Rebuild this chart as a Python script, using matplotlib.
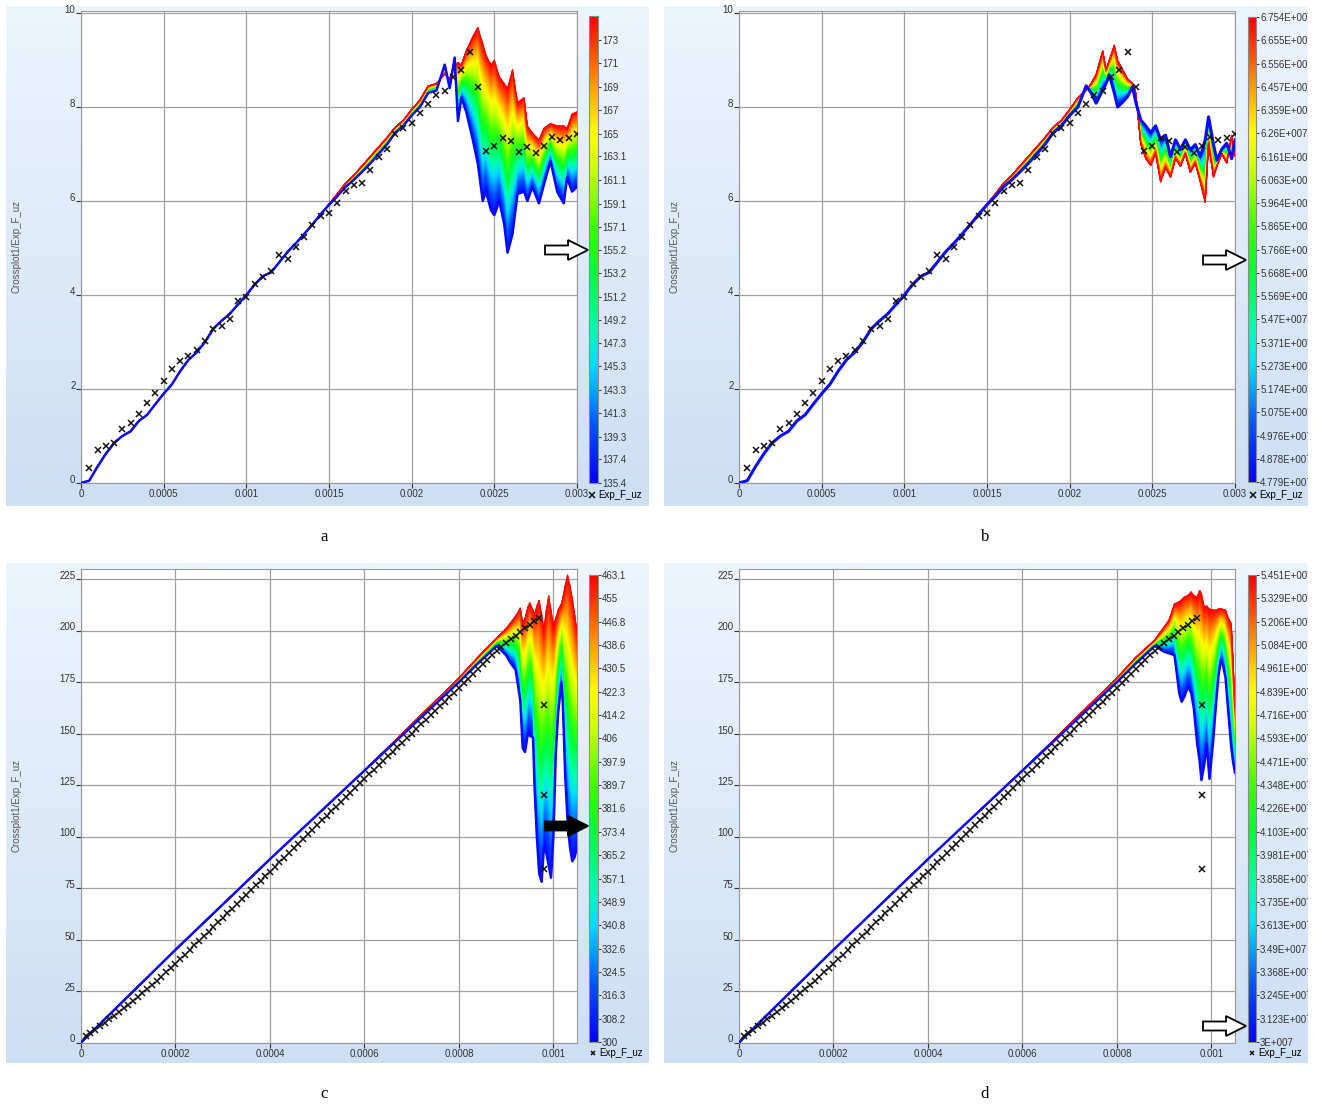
import numpy as np
import matplotlib
matplotlib.use('Agg')
import matplotlib.pyplot as plt
from matplotlib.colors import LinearSegmentedColormap
from matplotlib.patches import FancyArrow, Rectangle

plt.rcParams['font.family'] = ['Liberation Sans', 'DejaVu Sans']

W, H = 1317, 1106

# ---- experimental points, panels a and b (same test) ----
exp_ab_x = np.arange(1, 61) * 0.00005
exp_ab_y = [0.31, 0.70, 0.79, 0.86, 1.14, 1.28, 1.46, 1.71, 1.92, 2.16,
            2.42, 2.60, 2.70, 2.84, 3.03, 3.28, 3.34, 3.48, 3.88, 3.95,
            4.23, 4.39, 4.51, 4.85, 4.76, 5.02, 5.23, 5.49, 5.68, 5.74,
            5.96, 6.22, 6.33, 6.39, 6.66, 6.93, 7.10, 7.43, 7.55, 7.65,
            7.88, 8.06, 8.26, 8.35, 8.63, 8.79, 9.16, 8.42, 7.07, 7.16,
            7.33, 7.28, 7.04, 7.14, 7.01, 7.16, 7.37, 7.30, 7.33, 7.42]

# ---- experimental points, panels c and d ----
exp_cd_x = np.arange(1, 98) * 0.00001
exp_cd_y = [3.0, 4.6, 6.3, 8.0, 9.6, 11.3, 13.0, 14.8, 16.6, 18.4,
            20.3, 22.2, 24.1, 26.0, 28.0, 30.0, 32.0, 34.1, 36.2, 38.3,
            40.5, 42.7, 44.9, 47.1, 49.3, 51.5, 53.8, 56.0, 58.3, 60.5,
            62.8, 65.0, 67.3, 69.5, 71.8, 74.0, 76.3, 78.5, 80.8, 83.0,
            85.3, 87.5, 89.8, 92.0, 94.3, 96.5, 98.8, 101.0, 103.3, 105.5,
            107.8, 110.0, 112.3, 114.5, 116.8, 119.0, 121.3, 123.5, 125.8, 128.0,
            130.2, 132.4, 134.6, 136.8, 139.0, 141.2, 143.4, 145.6, 147.8, 150.0,
            152.2, 154.4, 156.6, 158.8, 161.0, 163.2, 165.4, 167.6, 169.8, 172.0,
            174.3, 176.6, 178.9, 181.2, 183.5, 185.8, 188.0, 190.2, 192.2, 194.0,
            195.8, 197.5, 199.2, 201.0, 202.8, 204.5, 206.0]
exp_cd_drop_x = [0.00098, 0.00098, 0.00098]
exp_cd_drop_y = [164, 120, 84]

# ---- simulated curve envelopes: lo = lowest parameter (blue), hi = highest (red) ----
lin_ab_x = np.arange(0, 41) * 0.00005
lin_ab_lo = [0, 0.05, 0.35, 0.62, 0.85, 1.0, 1.1, 1.32, 1.45, 1.68,
             1.9, 2.1, 2.38, 2.62, 2.78, 3.0, 3.28, 3.45, 3.6, 3.8,
             4.0, 4.22, 4.4, 4.48, 4.7, 4.92, 5.1, 5.3, 5.5, 5.72,
             5.92, 6.1, 6.3, 6.45, 6.62, 6.8, 7.0, 7.2, 7.45, 7.6, 7.82]
lin_ab_hi = [0, 0.05, 0.35, 0.62, 0.85, 1.0, 1.1, 1.32, 1.45, 1.68,
             1.9, 2.1, 2.38, 2.62, 2.78, 3.0, 3.28, 3.45, 3.6, 3.8,
             4.0, 4.22, 4.4, 4.48, 4.7, 4.92, 5.1, 5.3, 5.5, 5.72,
             5.93, 6.15, 6.38, 6.55, 6.75, 6.95, 7.15, 7.35, 7.57, 7.72, 7.95]

tail_a_x = [0.00205, 0.0021, 0.00215, 0.0022, 0.00223, 0.00226, 0.00228, 0.0023,
            0.00233, 0.00237, 0.0024, 0.00243, 0.00245, 0.00248, 0.0025, 0.00253,
            0.00256, 0.00258, 0.00261, 0.00264, 0.00268, 0.0027, 0.00273, 0.00277,
            0.0028, 0.00284, 0.00288, 0.00292, 0.00294, 0.00297, 0.003]
tail_a_lo = [8.0, 8.3, 8.35, 8.9, 8.4, 9.05, 7.7, 8.2, 7.9, 7.3, 6.8, 6.0, 6.2,
             5.8, 5.7, 6.0, 5.5, 4.9, 5.3, 6.15, 6.2, 6.0, 6.3, 5.95, 6.35, 6.85,
             6.2, 5.95, 6.5, 6.2, 6.3]
tail_a_hi = [8.15, 8.45, 8.5, 8.7, 8.6, 8.9, 8.95, 8.9, 9.2, 9.5, 9.7, 9.35, 9.1,
             8.9, 9.0, 8.65, 8.5, 8.4, 8.8, 8.1, 8.2, 7.6, 7.45, 7.3, 7.55, 7.65,
             7.6, 7.6, 7.55, 7.85, 7.9]

tail_b_x = [0.00205, 0.0021, 0.00213, 0.00216, 0.0022, 0.00222, 0.00224, 0.00227,
            0.00229, 0.00232, 0.00235, 0.00238, 0.0024, 0.00243, 0.00246, 0.00249,
            0.00252, 0.00255, 0.00258, 0.00261, 0.00264, 0.00267, 0.0027, 0.00273,
            0.00276, 0.00279, 0.00282, 0.00284, 0.00287, 0.00289, 0.00292, 0.00295,
            0.00298, 0.003]
tail_b_lo = [8.0, 8.45, 8.3, 8.08, 8.36, 8.5, 8.68, 8.3, 8.0, 8.1, 8.22, 8.43,
             8.1, 7.72, 7.6, 7.45, 7.6, 7.3, 7.4, 6.94, 7.3, 7.1, 7.3, 7.09, 7.2,
             6.94, 7.3, 7.79, 7.2, 6.87, 7.1, 7.23, 6.9, 7.3]
tail_b_hi = [8.2, 8.35, 8.5, 8.7, 9.2, 8.8, 9.0, 9.32, 9.0, 8.8, 8.6, 8.5, 8.3,
             7.2, 6.9, 6.75, 7.0, 6.4, 6.7, 6.5, 6.9, 6.73, 7.0, 6.6, 6.8, 6.4,
             5.96, 7.2, 6.5, 6.73, 7.0, 6.8, 7.4, 6.94]

band_c_x = [0, 0.0001, 0.0002, 0.0003, 0.0004, 0.0005, 0.0006, 0.0007, 0.0008,
            0.00084, 0.00088, 0.0009, 0.00091, 0.00092, 0.00093, 0.000935, 0.00094,
            0.000946, 0.00095, 0.000957, 0.00096, 0.000965, 0.00097, 0.000975,
            0.00098, 0.000985, 0.00099, 0.000995, 0.001, 0.001005, 0.00101,
            0.001017, 0.00102, 0.001025, 0.00103, 0.001035, 0.00104, 0.001045, 0.00105]
band_c_lo = [0, 22.5, 45, 67, 89, 110.5, 132, 153.5, 175, 184, 192.5, 188, 184,
             181, 166, 143, 141, 150, 149, 148, 125, 100, 82, 78, 95, 92, 86, 80,
             100, 140, 160, 175, 165, 130, 108, 95, 88, 90, 95]
band_c_hi = [0, 22.5, 45, 67, 89, 110.5, 132, 154.5, 177, 187, 196.5,
             201, 204, 207, 211, 204, 206, 211.5, 213.5, 210, 208, 212, 214.8, 208,
             201, 210, 217, 210, 203, 206, 210, 213, 216, 222, 227, 222, 216, 208, 200]

band_d_x = [0, 0.0001, 0.0002, 0.0003, 0.0004, 0.0005, 0.0006, 0.0007, 0.0008,
            0.00084, 0.00088, 0.0009, 0.00091, 0.000922, 0.000932, 0.000937,
            0.000943, 0.00095, 0.000957, 0.000963, 0.00097, 0.000975, 0.000979,
            0.000985, 0.00099, 0.000996, 0.001004, 0.00101, 0.001015, 0.00102,
            0.001025, 0.00103, 0.001036, 0.001042, 0.001046, 0.00105]
band_d_lo = [0, 22.5, 45, 67, 89, 110.5, 132, 153.5, 175, 184, 192.5, 189.7, 189,
             188, 169.6, 165.4, 168, 172.7, 170, 162, 145, 137, 127.4, 135, 145, 128,
             147, 165, 178, 185.7, 183, 177, 160, 143.6, 136, 131]
band_d_hi = [0, 22.5, 45, 67, 89, 110.5, 132, 154.5, 177, 187, 195.4,
             201.8, 205, 213, 214, 215, 216.4, 217, 218.8, 217, 216.4, 219.6, 218,
             211.5, 212, 210.5, 210, 210, 210.5, 210.7, 210.3, 210, 206, 203.5, 185, 163]

# ---- colour bar tick labels ----
cb_a_labels = ['135.4', '137.4', '139.3', '141.3', '143.3', '145.3', '147.3', '149.2',
               '151.2', '153.2', '155.2', '157.1', '159.1', '161.1', '163.1', '165',
               '167', '169', '171', '173']
cb_a_max = 175.0
cb_b_labels = ['4.779E+007', '4.878E+007', '4.976E+007', '5.075E+007', '5.174E+007',
               '5.273E+007', '5.371E+007', '5.47E+007', '5.569E+007', '5.668E+007',
               '5.766E+007', '5.865E+007', '5.964E+007', '6.063E+007', '6.161E+007',
               '6.26E+007', '6.359E+007', '6.457E+007', '6.556E+007', '6.655E+007',
               '6.754E+007']
cb_c_labels = ['300', '308.2', '316.3', '324.5', '332.6', '340.8', '348.9', '357.1',
               '365.2', '373.4', '381.6', '389.7', '397.9', '406', '414.2', '422.3',
               '430.5', '438.6', '446.8', '455', '463.1']
cb_d_labels = ['3E+007', '3.123E+007', '3.245E+007', '3.368E+007', '3.49E+007',
               '3.613E+007', '3.735E+007', '3.858E+007', '3.981E+007', '4.103E+007',
               '4.226E+007', '4.348E+007', '4.471E+007', '4.593E+007', '4.716E+007',
               '4.839E+007', '4.961E+007', '5.084E+007', '5.206E+007', '5.329E+007',
               '5.451E+007']

xt_ab = [0, 0.0005, 0.001, 0.0015, 0.002, 0.0025, 0.003]
xt_ab_labels = ['0', '0.0005', '0.001', '0.0015', '0.002', '0.0025', '0.003']
xt_cd = [0, 0.0002, 0.0004, 0.0006, 0.0008, 0.001]
xt_cd_labels = ['0', '0.0002', '0.0004', '0.0006', '0.0008', '0.001']
yt_ab = [0, 2, 4, 6, 8, 10]
yt_cd = [0, 25, 50, 75, 100, 125, 150, 175, 200, 225]

cmap = LinearSegmentedColormap.from_list('fringe', [
    (0.0, '#0000ff'), (0.12, '#0050ff'), (0.25, '#00dcff'), (0.33, '#00ffb0'),
    (0.45, '#00ff38'), (0.55, '#40ff00'), (0.67, '#c8ff00'), (0.75, '#ffff00'),
    (0.85, '#ffa000'), (0.94, '#ff3c00'), (1.0, '#ff0000')])


def px_box(x0, y0, x1, y1):
    return [x0 / W, 1 - y1 / H, (x1 - x0) / W, (y1 - y0) / H]


def draw_panel(ax, cax, bx, lo, hi, labels, vmax, ex, ey, xlim, ylim,
               xticks, xlabels, yticks, ms, lo_lw):
    bx = np.asarray(bx, dtype=float)
    lo = np.asarray(lo, dtype=float)
    hi = np.asarray(hi, dtype=float)
    ticks = [float(s) for s in labels]
    vmin = ticks[0]
    if vmax is None:
        vmax = ticks[-1]
    t = np.linspace(0, 1, 60)[:, None]
    X = np.broadcast_to(bx, (60, len(bx)))
    Y = lo + t * (hi - lo)
    C = vmin + t * (vmax - vmin) * np.ones_like(X)
    mesh = ax.pcolormesh(X, Y, C, shading='gouraud', cmap=cmap,
                         vmin=vmin, vmax=vmax, zorder=2)
    ax.plot(bx, lo, color='#0a0aff', lw=lo_lw, zorder=3)
    exp_line, = ax.plot(ex, ey, ls='none', marker='x', color='#111111',
                        ms=ms, mew=1.1, zorder=4, label='Exp_F_uz')

    ax.set_xlim(*xlim)
    ax.set_ylim(*ylim)
    ax.set_xticks(xticks, xlabels)
    ax.set_yticks(yticks, [str(v) for v in yticks])
    plt.setp(ax.get_yticklabels(), va='baseline')
    ax.tick_params(labelsize=7, colors='#333333', length=3.5, width=0.8, pad=1)
    ax.tick_params(axis='y', pad=0.5)
    ax.grid(True, color='#a0a0a0', lw=0.9)
    ax.set_axisbelow(True)
    for sp in ax.spines.values():
        sp.set_color('#999999')
    ax.set_ylabel('Crossplot1/Exp_F_uz', fontsize=7, color='#555555')
    ax.yaxis.set_label_coords(-0.119, 0.5)

    cb = fig.colorbar(mesh, cax=cax, ticks=ticks)
    cb.set_ticklabels(labels)
    cb.outline.set_edgecolor('#8a8a8a')
    cax.tick_params(labelsize=7, colors='#333333', length=2.5, width=0.7, pad=0.5)
    return exp_line


fig = plt.figure(figsize=(W / 100, H / 100), dpi=100)

# background frames with a light blue gradient
bg = fig.add_axes([0, 0, 1, 1], zorder=-10)
bg.set_xlim(0, W)
bg.set_ylim(H, 0)
bg.axis('off')
grad = LinearSegmentedColormap.from_list('frame', ['#edf5fd', '#cddff5'])
frames = [(6, 6, 649, 506), (664, 6, 1308, 506), (6, 563, 649, 1063), (664, 563, 1308, 1063)]
for x0, y0, x1, y1 in frames:
    bg.imshow(np.linspace(0, 1, 256)[:, None], cmap=grad, aspect='auto',
              extent=(x0, x1, y1, y0), origin='upper')

panels = [
    dict(ax=(81, 10.6, 577, 483), cax=(589, 16, 598, 483),
         bx=np.concatenate([lin_ab_x, tail_a_x]), lo=lin_ab_lo + tail_a_lo,
         hi=lin_ab_hi + tail_a_hi, labels=cb_a_labels, vmax=cb_a_max,
         ex=exp_ab_x, ey=exp_ab_y, xlim=(0, 0.003), ylim=(0, 10.05),
         xticks=xt_ab, xlabels=xt_ab_labels, yticks=yt_ab, ms=5, lo_lw=1.8,
         leg=(589, 495)),
    dict(ax=(739, 10.6, 1235, 483), cax=(1248, 17, 1256, 482),
         bx=np.concatenate([lin_ab_x, tail_b_x]), lo=lin_ab_lo + tail_b_lo,
         hi=lin_ab_hi + tail_b_hi, labels=cb_b_labels, vmax=None,
         ex=exp_ab_x, ey=exp_ab_y, xlim=(0, 0.003), ylim=(0, 10.05),
         xticks=xt_ab, xlabels=xt_ab_labels, yticks=yt_ab, ms=5, lo_lw=2.2,
         leg=(1250, 495)),
    dict(ax=(81, 568.7, 577, 1042.5), cax=(589, 575, 598, 1042),
         bx=band_c_x, lo=band_c_lo, hi=band_c_hi, labels=cb_c_labels, vmax=None,
         ex=exp_cd_x, ey=exp_cd_y, xlim=(0, 0.00105), ylim=(0, 230),
         xticks=xt_cd, xlabels=xt_cd_labels, yticks=yt_cd, ms=4, lo_lw=1.8,
         leg=(590, 1053)),
    dict(ax=(739, 568.7, 1235, 1042.5), cax=(1248, 575, 1256, 1042),
         bx=band_d_x, lo=band_d_lo, hi=band_d_hi, labels=cb_d_labels, vmax=None,
         ex=exp_cd_x, ey=exp_cd_y, xlim=(0, 0.00105), ylim=(0, 230),
         xticks=xt_cd, xlabels=xt_cd_labels, yticks=yt_cd, ms=4, lo_lw=1.8,
         leg=(1249, 1053)),
]

for i, p in enumerate(panels):
    ax = fig.add_axes(px_box(*p['ax']))
    cax = fig.add_axes(px_box(*p['cax']))
    exp_line = draw_panel(ax, cax, p['bx'], p['lo'], p['hi'], p['labels'], p['vmax'],
                          p['ex'], p['ey'], p['xlim'], p['ylim'], p['xticks'],
                          p['xlabels'], p['yticks'], p['ms'], p['lo_lw'])
    if i >= 2:
        ax.plot(exp_cd_drop_x, exp_cd_drop_y, ls='none', marker='x',
                color='#111111', ms=4, mew=1.1, zorder=4)
    ax.legend(handles=[exp_line], loc='center left',
              bbox_to_anchor=(p['leg'][0] / W, 1 - p['leg'][1] / H),
              bbox_transform=fig.transFigure, frameon=False, fontsize=7,
              handlelength=0.7, handletextpad=0.25, borderpad=0, borderaxespad=0,
              markerscale=0.8)

# overlay: arrows, panel letters, clipping of the right edge
ov = fig.add_axes([0, 0, 1, 1], zorder=10)
ov.set_xlim(0, W)
ov.set_ylim(H, 0)
ov.axis('off')
ov.patch.set_alpha(0)

arrows = [(545, 250, 'white'), (1203, 260, 'white'), (545, 826, 'black'), (1203, 1026, 'white')]
for x, y, fc in arrows:
    ov.add_patch(FancyArrow(x, y, 43, 0, width=9, head_width=20, head_length=20,
                            length_includes_head=True, fc=fc, ec='black', lw=1.3))

ov.add_patch(Rectangle((1308, 0), 20, H, fc='white', ec='none'))

for x, y, s in [(324, 537, 'a'), (985, 537, 'b'), (324, 1094, 'c'), (985, 1094, 'd')]:
    ov.text(x, y, s, fontsize=12, family='Liberation Serif', ha='center', va='center')

fig.savefig('out.png', dpi=100)
